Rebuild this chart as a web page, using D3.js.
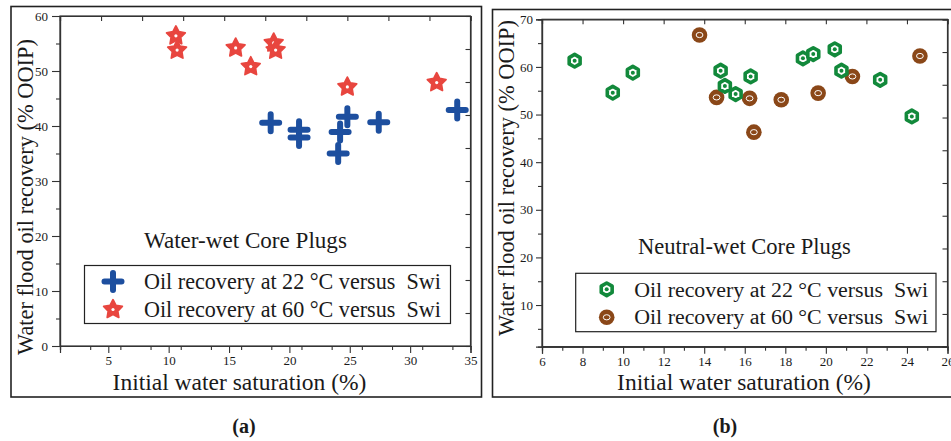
<!DOCTYPE html>
<html>
<head>
<meta charset="utf-8">
<script src="https://cdn.jsdelivr.net/npm/d3@7"></script>
<style>
  body { margin: 0; background: #fff; }
  text { font-family: "Liberation Serif", "DejaVu Serif", serif; fill: #1a1a1a; white-space: pre; }
</style>
</head>
<body>
<svg id="chart" width="951" height="441"></svg>
<script>
// panel (a) water-wet
const satA22 = [18.45, 20.8, 20.8, 24.04, 24.2, 24.8, 27.4, 33.9];
const recA22 = [40.6, 39.3, 37.9, 35.0, 38.9, 41.7, 40.7, 42.9];
const satA60 = [10.6, 10.7, 15.55, 16.8, 18.7, 18.86, 24.8, 32.2];
const recA60 = [56.4, 53.8, 54.2, 50.8, 55.1, 53.8, 47.1, 47.9];

// panel (b) neutral-wet
const satB22 = [7.61, 9.49, 10.48, 14.81, 15.02, 15.55, 16.29, 18.87, 19.38, 20.44, 20.77, 22.68, 24.24];
const recB22 = [61.3, 54.6, 58.8, 59.2, 56.0, 54.3, 58.0, 61.8, 62.7, 63.7, 59.2, 57.3, 49.6];
const satB60 = [13.77, 14.61, 16.24, 16.45, 17.8, 19.62, 21.31, 24.64];
const recB60 = [66.7, 53.6, 53.4, 46.3, 53.1, 54.5, 58.0, 62.3];

const xTicksA = [5, 10, 15, 20, 25, 30, 35];
const yTicksA = [0, 10, 20, 30, 40, 50, 60];
const xTicksB = [6, 8, 10, 12, 14, 16, 18, 20, 22, 24, 26];
const yTicksB = [10, 20, 30, 40, 50, 60, 70];

const legendLabels = ["Oil recovery at 22 °C versus  Swi", "Oil recovery at 60 °C versus  Swi"];
const yTitle = "Water flood oil recovery (% OOIP)";
const xTitle = "Initial water saturation (%)";

const svg = d3.select("#chart");
svg.append("rect").attr("width", 951).attr("height", 441).attr("fill", "#fff");

const blue = "#1d4f9f", red = "#e8463f", green = "#12893b", brown = "#8a4718";

// size a text so its width matches what the reference shows
function fit(sel, width, base) {
  sel.style("font-size", base + "px");
  const len = sel.node().getComputedTextLength();
  if (len > 0) sel.style("font-size", (base * width / len).toFixed(2) + "px");
  return sel;
}

// marker painters
function plus(g) {
  g.append("path")
    .attr("d", "M-8.5,0H8.5M0,-8.5V8.5")
    .attr("stroke", blue).attr("stroke-width", 6).attr("stroke-linecap", "round");
}
function star(g) {
  const pts = [];
  for (let i = 0; i < 10; i++) {
    const r = i % 2 === 0 ? 9.8 : 5;
    const a = -Math.PI / 2 + i * Math.PI / 5;
    pts.push([r * Math.cos(a), r * Math.sin(a)]);
  }
  g.append("path").attr("d", d3.line()(pts) + "Z")
    .attr("fill", red).attr("stroke", red).attr("stroke-width", 1.8).attr("stroke-linejoin", "round");
  g.append("circle").attr("r", 1.6).attr("fill", "#fff");
}
function hex(g) {
  const pts = d3.range(6).map(i => {
    const a = -Math.PI / 2 + i * Math.PI / 3;
    return [6.3 * Math.cos(a), 6.3 * Math.sin(a)];
  });
  g.append("path").attr("d", d3.line()(pts) + "Z")
    .attr("fill", "#fff").attr("stroke", green).attr("stroke-width", 3.6).attr("stroke-linejoin", "round");
  g.append("circle").attr("r", 2).attr("fill", green);
}
function ring(g) {
  g.append("circle").attr("r", 7.8).attr("fill", brown);
  g.append("ellipse").attr("rx", 3.4).attr("ry", 2.6)
    .attr("fill", "none").attr("stroke", "#fff").attr("stroke-width", 1);
}

function drawPanel(p) {
  // outer border
  svg.append("rect")
    .attr("x", p.box[0]).attr("y", p.box[1]).attr("width", p.box[2]).attr("height", p.box[3])
    .attr("fill", "none").attr("stroke", "#222").attr("stroke-width", 1.6);

  const x = d3.scaleLinear().domain(p.xDomain).range([p.left, p.right]);
  const y = d3.scaleLinear().domain(p.yDomain).range([p.bottom, p.top]);
  const w = p.right - p.left, h = p.bottom - p.top;

  const g = svg.append("g");

  // frame
  g.append("rect").attr("x", p.left).attr("y", p.top).attr("width", w).attr("height", h)
    .attr("fill", "none").attr("stroke", "#333").attr("stroke-width", 1.2);

  // minor ticks
  const xMinor = d3.range(p.xDomain[0], p.xDomain[1] + 1e-6, p.xMinorStep).filter(v => !p.xTicks.includes(v));
  const yMinor = d3.range(p.yMinorStart, p.yDomain[1] + 1e-6, p.yMinorStep).filter(v => !p.yTicks.includes(v));

  g.append("g").attr("transform", `translate(0,${p.bottom})`)
    .call(d3.axisBottom(x).tickValues(p.xTicks).tickSize(7).tickPadding(3).tickFormat(d3.format("d")));
  g.append("g").attr("transform", `translate(0,${p.bottom})`)
    .call(d3.axisBottom(x).tickValues(xMinor).tickSize(4).tickFormat(""));
  g.append("g").attr("transform", `translate(${p.left},0)`)
    .call(d3.axisLeft(y).tickValues(p.yTicks).tickSize(p.yTickLen).tickPadding(p.yPad).tickFormat(d3.format("d")));
  g.append("g").attr("transform", `translate(${p.left},0)`)
    .call(d3.axisLeft(y).tickValues(yMinor).tickSize(4).tickFormat(""));

  // secondary top/right scales: ten equal divisions, ticks inward
  const xs = d3.scaleLinear().domain([0, 10]).range([p.left, p.right]);
  const ys = d3.scaleLinear().domain([0, 10]).range([p.bottom, p.top]);
  g.append("g").attr("transform", `translate(0,${p.top})`)
    .call(d3.axisBottom(xs).ticks(10).tickSize(5).tickFormat(""));
  g.append("g").attr("transform", `translate(${p.right},0)`)
    .call(d3.axisLeft(ys).ticks(10).tickSize(5).tickFormat(""));

  g.selectAll(".domain").attr("stroke", "#333").attr("stroke-width", 1.2);
  g.selectAll(".tick line").attr("stroke", "#333").attr("stroke-width", 1.1);
  g.selectAll(".tick text").attr("font-family", null)
    .style("font-family", "Liberation Serif").style("font-size", "13px").attr("fill", "#222");

  // titles
  fit(svg.append("text").attr("x", p.xTitleX).attr("y", 390)
    .attr("text-anchor", "middle").text(xTitle), 254, 23);
  fit(svg.append("text")
    .attr("transform", `translate(${p.yTitleX},${p.yTitleY}) rotate(-90)`)
    .attr("text-anchor", "middle").text(yTitle), 316, 22.5);
  fit(svg.append("text").attr("x", p.noteX).attr("y", p.noteY).text(p.note), p.noteW, 21);
  svg.append("text").attr("x", p.labelX).attr("y", 433).attr("text-anchor", "middle")
    .style("font-size", "20px").style("font-weight", "bold").text(p.label);

  // points
  const series = [
    { sat: p.sat60, rec: p.rec60, mk: p.mk60 },
    { sat: p.sat22, rec: p.rec22, mk: p.mk22 }
  ];
  if (p.order22First) series.reverse();
  series.forEach(s => {
    g.selectAll(null).data(s.sat.map((v, i) => [v, s.rec[i]])).join("g")
      .attr("transform", d => `translate(${x(d[0])},${y(d[1])})`)
      .each(function () { s.mk(d3.select(this)); });
  });

  // legend
  const L = p.legend;
  svg.append("rect").attr("x", L[0]).attr("y", L[1]).attr("width", L[2]).attr("height", L[3])
    .attr("fill", "#fff").attr("stroke", "#222").attr("stroke-width", 1.2);
  [p.mk22, p.mk60].forEach((mk, i) => {
    const row = svg.append("g").attr("transform", `translate(${L[0] + p.legMkDx},${L[1] + 16 + i * 28})`);
    mk(row);
    fit(svg.append("text").attr("x", L[0] + p.legTxtDx).attr("y", L[1] + 23.5 + i * 27.5)
      .text(legendLabels[i]), p.legW, 21.5);
  });
}

drawPanel({
  box: [11, 6.5, 470.5, 390.5],
  left: 60, right: 470.5, top: 16, bottom: 346,
  xDomain: [1, 35], yDomain: [0, 60],
  xTicks: xTicksA, yTicks: yTicksA, xMinorStep: 2.5, yMinorStart: 5, yMinorStep: 5,
  yTickLen: 8, yPad: 4, xTitleX: 239.5,
  yTitleX: 33, yTitleY: 197,
  sat22: satA22, rec22: recA22, sat60: satA60, rec60: recA60,
  mk22: plus, mk60: star, order22First: true,
  note: "Water-wet Core Plugs", noteX: 144, noteY: 247.5, noteW: 203,
  label: "(a)", labelX: 244,
  legend: [84.5, 265.5, 366, 58], legMkDx: 28.5, legTxtDx: 59.5, legW: 297
});

drawPanel({
  box: [492.5, 9.5, 470, 387.5],
  left: 542, right: 947.5, top: 19.3, bottom: 346.7,
  xDomain: [6, 26], yDomain: [1.25, 70],
  xTicks: xTicksB, yTicks: yTicksB, xMinorStep: 1, yMinorStart: 5, yMinorStep: 5,
  yTickLen: 6, yPad: 3, xTitleX: 744,
  yTitleX: 514, yTitleY: 178,
  sat22: satB22, rec22: recB22, sat60: satB60, rec60: recB60,
  mk22: hex, mk60: ring, order22First: false,
  note: "Neutral-wet Core Plugs", noteX: 638, noteY: 254, noteW: 213,
  label: "(b)", labelX: 725,
  legend: [575.7, 273.3, 360.3, 58.4], legMkDx: 31, legTxtDx: 58.5, legW: 294
});
</script>
</body>
</html>
